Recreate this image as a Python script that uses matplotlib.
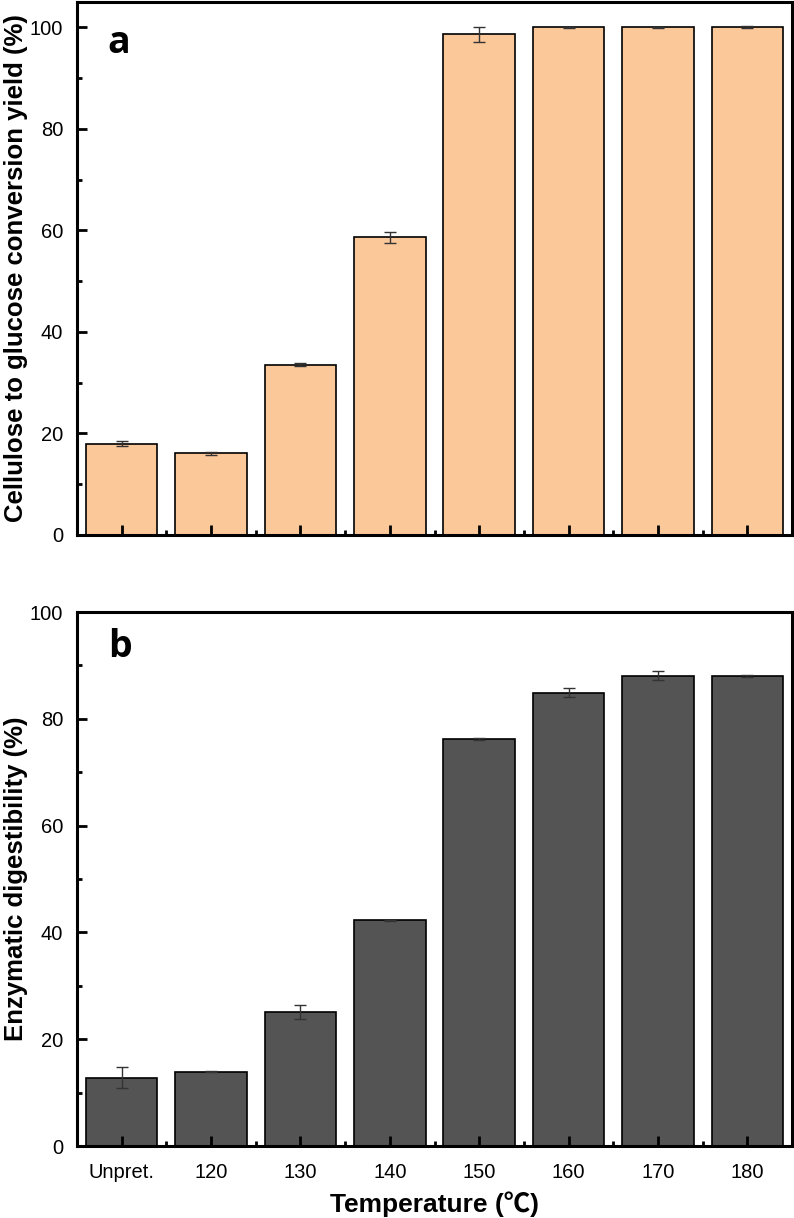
import matplotlib
matplotlib.use("Agg")
import matplotlib.pyplot as plt
import numpy as np
from matplotlib.ticker import MultipleLocator

# data
categories = ["Unpret.", "120", "130", "140", "150", "160", "170", "180"]
glucose_yield = [18.0, 16.1, 33.5, 58.6, 98.6, 100.0, 100.0, 100.0]
glucose_err = [0.5, 0.3, 0.3, 1.0, 1.5, 0.1, 0.1, 0.2]
digestibility = [12.8, 13.9, 25.1, 42.3, 76.2, 84.9, 88.1, 88.0]
digest_err = [2.0, 0.1, 1.35, 0.1, 0.15, 0.8, 0.8, 0.2]

plt.rcParams['font.family'] = ['Liberation Sans', 'Noto Sans CJK SC', 'DejaVu Sans']

fig = plt.figure(figsize=(7.94, 12.18), dpi=100)
ax1 = fig.add_axes([0.097, 0.5608, 0.9005, 0.4376])
ax2 = fig.add_axes([0.097, 0.0591, 0.9005, 0.4384])

x = np.arange(len(categories))


def style(ax, ymax):
    ax.set_xlim(-0.5, len(categories) - 0.5)
    ax.set_ylim(0, ymax)
    for s in ax.spines.values():
        s.set_linewidth(2.2)
    ax.yaxis.set_major_locator(MultipleLocator(20))
    ax.yaxis.set_minor_locator(MultipleLocator(10))
    ax.set_xticks(x)
    ax.set_xticks(np.arange(len(categories) - 1) + 0.5, minor=True)
    ax.tick_params(which='major', direction='in', length=7, width=2,
                   labelsize=14.5, top=False, right=False)
    ax.tick_params(which='minor', direction='in', length=3.5, width=2,
                   top=False, right=False)
    ax.tick_params(axis='y', pad=10)


# panel a
ax1.bar(x, glucose_yield, width=0.8, color='#FBC899', edgecolor='black',
        linewidth=1.2, yerr=glucose_err, capsize=4,
        error_kw=dict(ecolor='#333333', elinewidth=1, capthick=1))
style(ax1, 105)
ax1.set_xticklabels([])
ax1.set_ylabel("Cellulose to glucose conversion yield (%)", fontsize=18.5,
               fontweight='bold', labelpad=1)
ax1.text(0.043, 0.905, "a", transform=ax1.transAxes, fontsize=27,
         fontweight='bold', family='Open Sans')

# panel b
ax2.bar(x, digestibility, width=0.8, color='#545454', edgecolor='black',
        linewidth=1.2, yerr=digest_err, capsize=4,
        error_kw=dict(ecolor='#333333', elinewidth=1, capthick=1))
style(ax2, 100)
ax2.set_xticklabels(categories)
ax2.tick_params(axis='x', pad=12)
ax2.set_ylabel("Enzymatic digestibility (%)", fontsize=18.5,
               fontweight='bold', labelpad=1)
ax2.set_xlabel("Temperature (\u2103)", fontsize=19, fontweight='bold',
               labelpad=7)
ax2.text(0.043, 0.916, "b", transform=ax2.transAxes, fontsize=27,
         fontweight='bold', family='Open Sans')

fig.savefig("out.png", dpi=100)
